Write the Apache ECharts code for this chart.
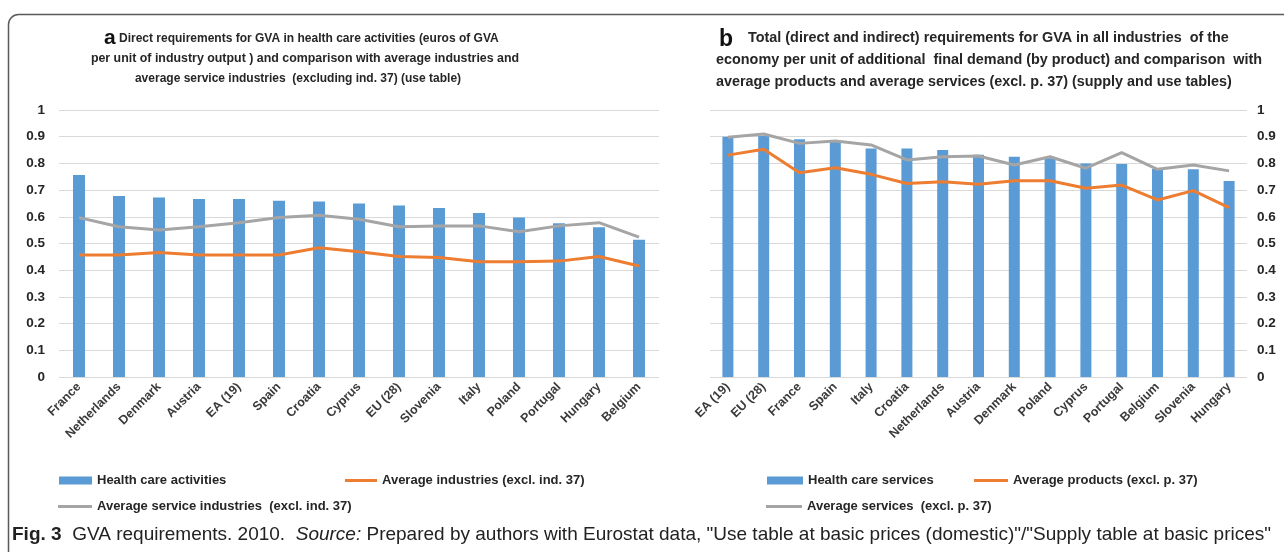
<!DOCTYPE html>
<html>
<head>
<meta charset="utf-8">
<script src="https://cdn.jsdelivr.net/npm/echarts@6/dist/echarts.min.js"></script>
<style>
  html, body { margin: 0; padding: 0; background: #ffffff; }
  #chart { width: 1284px; height: 552px; }
</style>
</head>
<body>
<div id="chart"></div>
<script>
// Panel a: direct GVA requirements (use table)
const leftCategories = ['France', 'Netherlands', 'Denmark', 'Austria', 'EA (19)', 'Spain', 'Croatia', 'Cyprus', 'EU (28)', 'Slovenia', 'Italy', 'Poland', 'Portugal', 'Hungary', 'Belgium'];
const healthCareActivities = [0.757, 0.678, 0.672, 0.667, 0.667, 0.660, 0.657, 0.650, 0.642, 0.633, 0.614, 0.597, 0.576, 0.561, 0.514];
const averageIndustries = [0.457, 0.457, 0.466, 0.457, 0.457, 0.457, 0.484, 0.469, 0.451, 0.448, 0.432, 0.432, 0.434, 0.451, 0.416];
const averageServiceIndustries = [0.597, 0.563, 0.551, 0.563, 0.578, 0.597, 0.606, 0.591, 0.563, 0.566, 0.566, 0.544, 0.566, 0.578, 0.524];

// Panel b: total (direct and indirect) GVA requirements (supply and use tables)
const rightCategories = ['EA (19)', 'EU (28)', 'France', 'Spain', 'Italy', 'Croatia', 'Netherlands', 'Austria', 'Denmark', 'Poland', 'Cyprus', 'Portugal', 'Belgium', 'Slovenia', 'Hungary'];
const healthCareServices = [0.900, 0.904, 0.890, 0.881, 0.856, 0.856, 0.850, 0.832, 0.825, 0.819, 0.800, 0.798, 0.779, 0.778, 0.734];
const averageProducts = [0.831, 0.853, 0.765, 0.784, 0.759, 0.725, 0.731, 0.722, 0.735, 0.735, 0.707, 0.719, 0.663, 0.698, 0.634];
const averageServices = [0.898, 0.910, 0.875, 0.884, 0.869, 0.813, 0.825, 0.828, 0.794, 0.825, 0.782, 0.840, 0.778, 0.794, 0.772];

// Value axis tick labels (0 to 1 in steps of 0.1)
const yTickLabels = ['0', '0.1', '0.2', '0.3', '0.4', '0.5', '0.6', '0.7', '0.8', '0.9', '1'];

const FONT = '"Liberation Sans", Arial, sans-serif';
const BLUE = '#5b9bd5';
const ORANGE = '#ed7d31';
const GREY = '#a5a5a5';
const TEXT = '#262626';

const chart = echarts.init(document.getElementById('chart'), null, { renderer: 'canvas' });

function categoryAxis(gridIndex, data) {
  return {
    type: 'category',
    gridIndex: gridIndex,
    data: data,
    boundaryGap: true,
    axisLine: { show: false },
    axisTick: { show: false },
    axisLabel: {
      interval: 0,
      rotate: 45,
      margin: 8,
      color: '#3a3a3a',
      fontFamily: FONT,
      fontWeight: 'bold',
      fontSize: 12.5
    }
  };
}

function valueAxis(gridIndex, position, margin) {
  return {
    type: 'value',
    gridIndex: gridIndex,
    position: position,
    min: 0,
    max: 1,
    interval: 0.1,
    axisLine: { show: false },
    axisTick: { show: false },
    axisLabel: {
      margin: margin,
      color: TEXT,
      fontFamily: FONT,
      fontWeight: 'bold',
      fontSize: 13.5,
      formatter: function (v) { return yTickLabels[Math.round(v * 10)]; }
    },
    splitLine: { lineStyle: { color: '#d9d9d9', width: 1 } }
  };
}

function lineSeries(name, axisIdx, data, color) {
  return {
    name: name,
    type: 'line',
    xAxisIndex: axisIdx,
    yAxisIndex: axisIdx,
    data: data,
    showSymbol: false,
    symbol: 'none',
    z: 3,
    lineStyle: { color: color, width: 3 },
    itemStyle: { color: color },
    animation: false
  };
}

function barSeries(name, axisIdx, data, width) {
  return {
    name: name,
    type: 'bar',
    xAxisIndex: axisIdx,
    yAxisIndex: axisIdx,
    data: data,
    barWidth: width,
    itemStyle: { color: BLUE },
    z: 2,
    animation: false
  };
}

const legendText = { color: TEXT, fontFamily: FONT, fontWeight: 'bold', fontSize: 13 };
function legendItem(name, left, top, iconWidth, isBar) {
  return {
    data: [name],
    left: left,
    top: top,
    padding: 0,
    icon: 'rect',
    itemWidth: iconWidth,
    itemHeight: isBar ? 8 : 3,
    itemGap: 0,
    selectedMode: false,
    textStyle: legendText
  };
}

function titleLine(text, x, y, align, size) {
  return {
    type: 'text',
    style: { text: text, x: x, y: y, align: align, verticalAlign: 'middle', fontFamily: FONT, fontWeight: 'bold', fontSize: size, fill: TEXT }
  };
}
function panelLetter(letter, x, y, size) {
  return {
    type: 'text',
    style: { text: letter, x: x, y: y, align: 'left', verticalAlign: 'middle', fontFamily: FONT, fontWeight: 'bold', fontSize: size, fill: '#111' }
  };
}

const option = {
  backgroundColor: '#ffffff',
  animation: false,
  grid: [
    { left: 59, top: 110, width: 600, height: 267 },
    { left: 710, top: 110, width: 537, height: 267 }
  ],
  xAxis: [categoryAxis(0, leftCategories), categoryAxis(1, rightCategories)],
  yAxis: [valueAxis(0, 'left', 14), valueAxis(1, 'right', 10)],
  legend: [
    legendItem('Health care activities', 59, 474, 33, true),
    legendItem('Average industries (excl. ind. 37)', 345, 474, 32, false),
    legendItem('Average service industries  (excl. ind. 37)', 58, 500, 34, false),
    legendItem('Health care services', 767, 474, 36, true),
    legendItem('Average products (excl. p. 37)', 974, 474, 34, false),
    legendItem('Average services  (excl. p. 37)', 766, 500, 36, false)
  ],
  series: [
    barSeries('Health care activities', 0, healthCareActivities, 12),
    lineSeries('Average industries (excl. ind. 37)', 0, averageIndustries, ORANGE),
    lineSeries('Average service industries  (excl. ind. 37)', 0, averageServiceIndustries, GREY),
    barSeries('Health care services', 1, healthCareServices, 11),
    lineSeries('Average products (excl. p. 37)', 1, averageProducts, ORANGE),
    lineSeries('Average services  (excl. p. 37)', 1, averageServices, GREY)
  ],
  graphic: [
    // rounded figure frame
    {
      type: 'rect',
      shape: { x: 8.5, y: 14.5, width: 1340, height: 620, r: 10 },
      style: { fill: 'none', stroke: '#5a5a5a', lineWidth: 1.5 },
      silent: true
    },
    // panel a heading
    panelLetter('a', 104, 38, 21),
    titleLine('Direct requirements for GVA in health care activities (euros of GVA', 119, 39, 'left', 12),
    titleLine('per unit of industry output ) and comparison with average industries and', 305, 59, 'center', 12.4),
    titleLine('average service industries  (excluding ind. 37) (use table)', 298, 79, 'center', 12),
    // panel b heading
    panelLetter('b', 719, 40, 23),
    titleLine('Total (direct and indirect) requirements for GVA in all industries  of the', 748, 38, 'left', 14.4),
    titleLine('economy per unit of additional  final demand (by product) and comparison  with', 716, 60, 'left', 14.4),
    titleLine('average products and average services (excl. p. 37) (supply and use tables)', 716, 82, 'left', 14.4),
    // figure caption
    {
      type: 'text',
      style: {
        text: '{b|Fig. 3}  GVA requirements. 2010.  {i|Source:} Prepared by authors with Eurostat data, "Use table at basic prices (domestic)"/"Supply table at basic prices"',
        x: 12,
        y: 535,
        align: 'left',
        verticalAlign: 'middle',
        fontFamily: FONT,
        fontSize: 19,
        fill: '#222',
        rich: {
          b: { fontFamily: FONT, fontSize: 19, fontWeight: 'bold', fill: '#222' },
          i: { fontFamily: FONT, fontSize: 19, fontStyle: 'italic', fill: '#222' }
        }
      }
    }
  ]
};

chart.setOption(option);
</script>
</body>
</html>
